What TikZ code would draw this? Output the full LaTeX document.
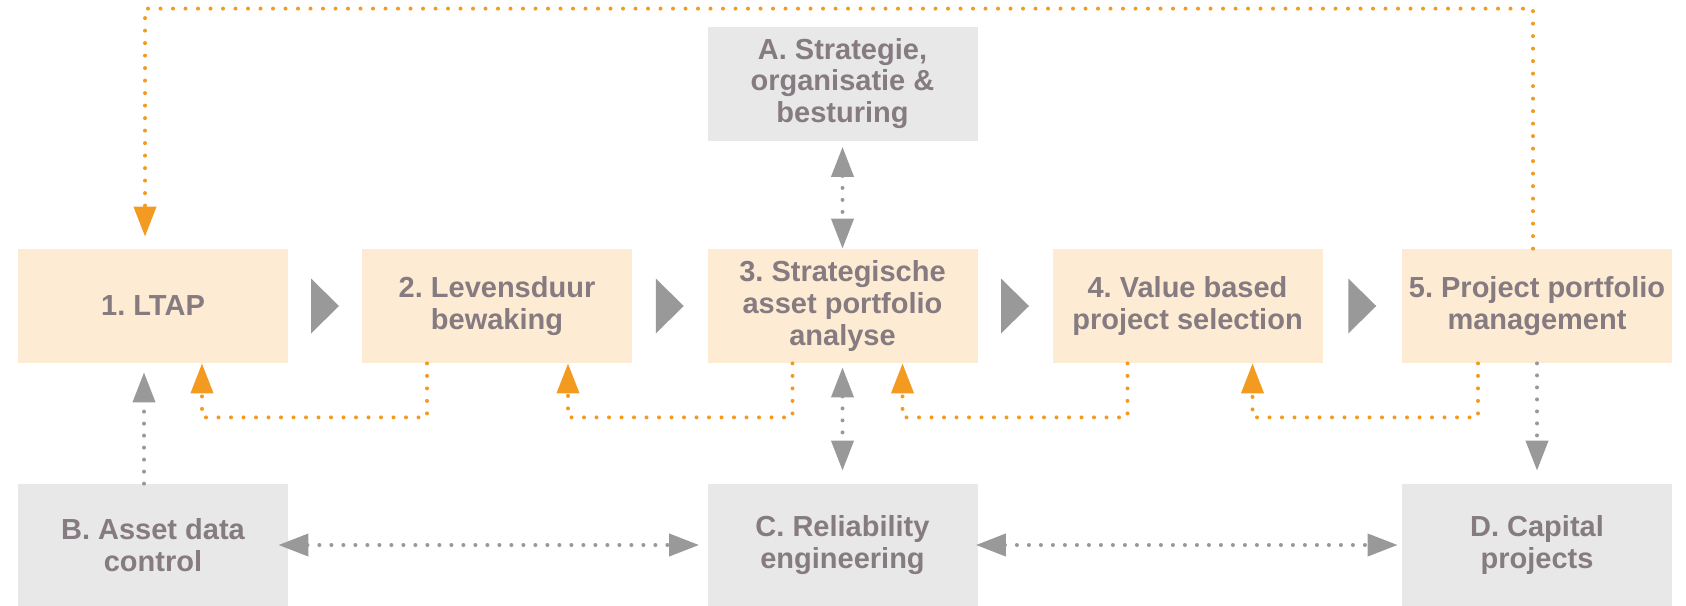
\documentclass[tikz,border=0pt]{standalone}
\usepackage{fontspec}
\setmainfont{Liberation Sans}
\usetikzlibrary{arrows.meta,calc}
\definecolor{peach}{RGB}{253,235,212}
\definecolor{lightgr}{RGB}{232,232,232}
\definecolor{orng}{RGB}{243,154,33}
\definecolor{arrgr}{RGB}{153,153,153}
\definecolor{txt}{RGB}{133,123,128}
\frenchspacing
\tikzset{
  stepbox/.style={fill=peach, draw=none, minimum width=135pt, minimum height=57pt, inner sep=0pt, align=center, text=txt, font=\fontsize{14.5}{15.8}\selectfont\bfseries},
  sidebox/.style={stepbox, fill=lightgr},
  lowbox/.style={sidebox, minimum height=61pt},
  orangedot/.style={orng, line width=2pt, line cap=round, dash pattern=on 0pt off 6.25pt, -{Triangle[length=15pt,width=11pt]}},
  graydot/.style={arrgr, line width=2pt, line cap=round, dash pattern=on 0pt off 6pt, -{Triangle[length=15pt,width=11pt]}},
  graydotboth/.style={graydot, {Triangle[length=15pt,width=11pt]}-{Triangle[length=15pt,width=11pt]}},
  chevron/.style={fill=arrgr}
}
\begin{document}
\begin{tikzpicture}[x=0.5pt,y=-0.5pt]
\useasboundingbox (0,0) rectangle (1686,605);
% step boxes
\node[stepbox] (n1) at (153,306) {1. LTAP};
\node[stepbox] (n2) at (497,306) {2. Levensduur\\bewaking};
\node[stepbox] (n3) at (842.5,306) {3. Strategische\\asset portfolio\\analyse};
\node[stepbox] (n4) at (1187.5,306) {4. Value based\\project selection};
\node[stepbox] (n5) at (1537,306) {5. Project portfolio\\management};
% side boxes
\node[sidebox] (nA) at (842.5,83.5) {A. Strategie,\\organisatie \&\\besturing};
\node[lowbox] (nB) at (153,545) {B. Asset data\\control};
\node[lowbox] (nC) at (842.5,545) {C. Reliability\\engineering};
\node[lowbox] (nD) at (1537,545) {D. Capital\\projects};
% chevrons between step boxes
\foreach \a/\b in {n1/n2,n2/n3,n3/n4,n4/n5}{
  \fill[chevron] ($(\a.east)!0.5!(\b.west)$) ++(-14,-27.5) -- ++(28,27.5) -- ++(-28,27.5) -- cycle;
}
% top orange feedback loop
\draw[orangedot] ([xshift=-2pt]n5.north) -- ++(0,-240) -| ([xshift=-4pt,yshift=6pt]n1.north);
% bottom orange loops
\draw[orangedot] ([xshift=-35pt]n2.south) -- ++(0,54) -| ([xshift=24.5pt]n1.south);
\draw[orangedot] ([xshift=-25pt]n3.south) -- ++(0,54) -| ([xshift=35.5pt]n2.south);
\draw[orangedot] ([xshift=-30pt]n4.south) -- ++(0,54) -| ([xshift=30pt]n3.south);
\draw[orangedot] ([xshift=-29.5pt]n5.south) -- ++(0,54) -| ([xshift=32.5pt]n4.south);
% gray connectors
\draw[graydot] ([xshift=-4.5pt]nB.north) -- ([xshift=-4.5pt,yshift=-4.5pt]n1.south);
\draw[graydotboth] ([yshift=-3pt]nA.south) -- (n3.north);
\draw[graydotboth] ([yshift=-2pt]n3.south) -- ([yshift=6.5pt]nC.north);
\draw[graydot] (n5.south) -- ([yshift=6.5pt]nD.north);
\draw[graydotboth] ([xshift=-5pt]nB.east) -- ([xshift=-4pt]nC.west);
\draw[graydotboth] ([xshift=-1pt]nC.east) -- ([xshift=-2pt]nD.west);
\end{tikzpicture}
\end{document}
